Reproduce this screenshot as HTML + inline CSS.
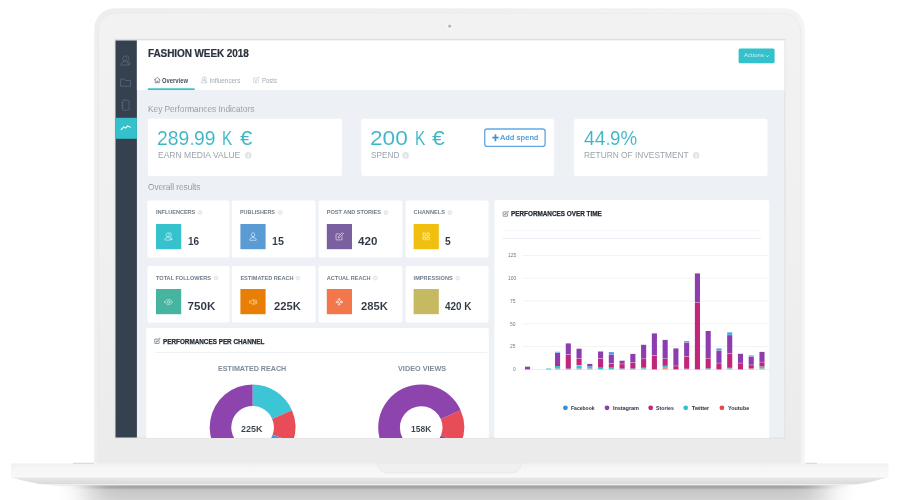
<!DOCTYPE html>
<html lang="en"><head><meta charset="utf-8"><title>Fashion Week 2018 dashboard</title>
<style>
html,body{margin:0;padding:0;background:#fff}
body{width:900px;height:500px;position:relative;overflow:hidden;font-family:"Liberation Sans",sans-serif}
.b{position:absolute}
.t{position:absolute;white-space:nowrap;line-height:1;margin:0;padding:0;transform-origin:0 0}
.p{display:inline-block;white-space:pre;transform-origin:0 0;vertical-align:top}
.thin{-webkit-text-stroke:0.06px #fff}
.thinbg{-webkit-text-stroke:0.18px #edf1f6}
.semi{-webkit-text-stroke:0.06px #fff}
.heavy2{-webkit-text-stroke:0.18px currentColor}
.heavy{-webkit-text-stroke:0.25px currentColor}
svg{position:absolute;left:0;top:0;overflow:visible}
#screen{will-change:transform;position:absolute;left:0;top:0;width:900px;height:500px;clip-path:inset(40.5px 115.6px 62.5px 115.5px)}
</style></head><body>
<svg width="900" height="500" viewBox="0 0 900 500">
<defs>
<linearGradient id="baseg" x1="0" y1="463.5" x2="0" y2="485.5" gradientUnits="userSpaceOnUse"><stop offset="0" stop-color="#f0f0f0"/><stop offset="0.2" stop-color="#f5f5f5"/><stop offset="0.62" stop-color="#f9f9f9"/><stop offset="0.66" stop-color="#e6e6e6"/><stop offset="0.92" stop-color="#dbdbdb"/><stop offset="0.95" stop-color="#efefef"/><stop offset="1" stop-color="#e2e2e2"/></linearGradient>
<linearGradient id="lidg" x1="0" y1="0" x2="0" y2="1"><stop offset="0" stop-color="#f2f2f2"/><stop offset="0.5" stop-color="#f0f0f0"/><stop offset="1" stop-color="#ebebeb"/></linearGradient>
<linearGradient id="rimg" x1="0" y1="0" x2="1" y2="0"><stop offset="0" stop-color="#eeeeee"/><stop offset="0.5" stop-color="#efefef"/><stop offset="1" stop-color="#f4f4f4"/></linearGradient>
<linearGradient id="shg" x1="0" y1="485" x2="0" y2="500" gradientUnits="userSpaceOnUse"><stop offset="0" stop-color="#9c9c9c"/><stop offset="0.2" stop-color="#a9a9a9"/><stop offset="0.32" stop-color="#c6c6c6"/><stop offset="1" stop-color="#d1d1d1"/></linearGradient>
<filter id="blurh" x="-10%" y="-50%" width="120%" height="200%"><feGaussianBlur stdDeviation="15 0.6"/></filter>
</defs>
<!-- ground shadow -->
<rect x="88" y="484.5" width="737" height="30" fill="url(#shg)" filter="url(#blurh)"/>
<!-- lid -->
<path d="M94.3 463.5 V28.5 a20.200 20.200 0 0 1 20.200 -20.200 H784.5 a20.200 20.200 0 0 1 20.200 20.200 V463.5 Z" fill="url(#rimg)"/>
<path d="M98.200 463.5 V30 a17.300 17.300 0 0 1 17.300 -17.300 H783.5 a17.300 17.300 0 0 1 17.300 17.300 V463.5 Z" fill="#e9e9e9"/>
<path d="M99 463.5 V30 a16.500 16.500 0 0 1 16.500 -16.500 H783.5 a16.500 16.500 0 0 1 16.500 16.500 V463.5 Z" fill="url(#lidg)"/>
<rect x="114.600" y="38.800" width="670.700" height="399.600" fill="#dedede"/>
<!-- base -->
<path d="M11 463.5 H888.5 V477 C875 481 860 485.500 840 485.500 H60 C40 485.500 25 481 11 477.500 Z" fill="url(#baseg)"/>
<path d="M378 463 H521 V464 a9 9 0 0 1 -9 9 H387 a9 9 0 0 1 -9 -9 Z" fill="#f0f0f0" stroke="#e6e6e6" stroke-width="0.8"/>
<rect x="73" y="462.800" width="21" height="0.9" fill="#cfcfcf"/>
<rect x="805.500" y="462.800" width="11.500" height="0.9" fill="#cfcfcf"/>
</svg>
<div id="screen">
<svg width="900" height="500" viewBox="0 0 900 500">
<rect x="115.50" y="40.50" width="668.90" height="397.00" rx="0" fill="#edf1f6" />
<rect x="115.50" y="40.50" width="21.40" height="397.00" rx="0" fill="#36414f" />
<rect x="115.50" y="117.80" width="21.40" height="21.00" rx="0" fill="#35c1cb" />
<rect x="136.90" y="40.50" width="647.50" height="49.50" rx="0" fill="#ffffff" />
<rect x="147.80" y="88.30" width="46.90" height="1.70" rx="0" fill="#35c1cb" />
<rect x="738.60" y="48.60" width="36.00" height="14.60" rx="1.5" fill="#35c1cb" />
<rect x="147.90" y="118.80" width="194.10" height="57.20" rx="2.5" fill="#fff" />
<rect x="361.30" y="118.80" width="192.80" height="57.20" rx="2.5" fill="#fff" />
<rect x="573.90" y="118.80" width="193.60" height="57.20" rx="2.5" fill="#fff" />
<rect x="484.70" y="129.00" width="60.40" height="17.40" rx="2.4" fill="#fff" stroke="#63a9e6" stroke-width="1.35"/>
<rect x="147.40" y="200.40" width="82.00" height="57.20" rx="2.2" fill="#fff" />
<rect x="147.40" y="266.00" width="82.00" height="56.60" rx="2.2" fill="#fff" />
<rect x="231.80" y="200.40" width="83.80" height="57.20" rx="2.2" fill="#fff" />
<rect x="231.80" y="266.00" width="83.80" height="56.60" rx="2.2" fill="#fff" />
<rect x="318.60" y="200.40" width="83.80" height="57.20" rx="2.2" fill="#fff" />
<rect x="318.60" y="266.00" width="83.80" height="56.60" rx="2.2" fill="#fff" />
<rect x="405.60" y="200.40" width="83.00" height="57.20" rx="2.2" fill="#fff" />
<rect x="405.60" y="266.00" width="83.00" height="56.60" rx="2.2" fill="#fff" />
<rect x="156.00" y="224.00" width="25.20" height="25.20" rx="0" fill="#36c2cc" />
<rect x="240.40" y="224.00" width="25.20" height="25.20" rx="0" fill="#5a9bd4" />
<rect x="326.80" y="224.00" width="25.20" height="25.20" rx="0" fill="#7a60a0" />
<rect x="413.60" y="224.00" width="25.20" height="25.20" rx="0" fill="#f1c00e" />
<rect x="156.00" y="289.00" width="25.20" height="25.20" rx="0" fill="#46b49e" />
<rect x="240.40" y="289.00" width="25.20" height="25.20" rx="0" fill="#e87e04" />
<rect x="326.80" y="289.00" width="25.20" height="25.20" rx="0" fill="#f2784b" />
<rect x="413.60" y="289.00" width="25.20" height="25.20" rx="0" fill="#c5b961" />
<rect x="146.20" y="328.00" width="342.60" height="112.50" rx="2.2" fill="#fff" />
<rect x="494.40" y="200.00" width="274.80" height="240.50" rx="2.2" fill="#fff" />
<rect x="155.00" y="352.20" width="332.00" height="0.80" rx="0" fill="#eceef2" />
<rect x="502.60" y="230.00" width="258.40" height="0.80" rx="0" fill="#f3f4f6" />
<rect x="502.60" y="237.80" width="258.40" height="0.90" rx="0" fill="#e3ebf3" />
</svg>
<svg width="900" height="500" viewBox="0 0 900 500">
<rect x="522.4" y="369.00" width="246.8" height="0.8" fill="#e4e8ee"/>
<rect x="522.4" y="346.20" width="246.8" height="0.8" fill="#f0f1f4"/>
<rect x="522.4" y="323.40" width="246.8" height="0.8" fill="#f0f1f4"/>
<rect x="522.4" y="300.60" width="246.8" height="0.8" fill="#f0f1f4"/>
<rect x="522.4" y="277.80" width="246.8" height="0.8" fill="#f0f1f4"/>
<rect x="522.4" y="255.00" width="246.8" height="0.8" fill="#f0f1f4"/>
<rect x="525.00" y="366.70" width="5.1" height="2.70" fill="#8d3db0"/>
<rect x="546.10" y="368.50" width="5.1" height="0.90" fill="#33c3d3"/>
<rect x="555.00" y="368.50" width="5.1" height="0.90" fill="#f28b82"/>
<rect x="555.00" y="366.00" width="5.1" height="2.50" fill="#33c3d3"/>
<rect x="555.00" y="364.00" width="5.1" height="2.00" fill="#c2267a"/>
<rect x="555.00" y="352.85" width="5.1" height="11.15" fill="#8d3db0"/>
<rect x="555.00" y="351.80" width="5.1" height="0.70" fill="#3fa4ea"/>
<rect x="565.76" y="368.60" width="5.1" height="0.80" fill="#33c3d3"/>
<rect x="565.76" y="354.65" width="5.1" height="13.95" fill="#c2267a"/>
<rect x="565.76" y="343.40" width="5.1" height="10.90" fill="#8d3db0"/>
<rect x="576.52" y="368.50" width="5.1" height="0.90" fill="#f28b82"/>
<rect x="576.52" y="365.45" width="5.1" height="3.05" fill="#33c3d3"/>
<rect x="576.52" y="358.45" width="5.1" height="6.65" fill="#c2267a"/>
<rect x="576.52" y="348.70" width="5.1" height="9.40" fill="#8d3db0"/>
<rect x="587.28" y="368.50" width="5.1" height="0.90" fill="#f28b82"/>
<rect x="587.28" y="366.30" width="5.1" height="2.20" fill="#33c3d3"/>
<rect x="587.28" y="363.90" width="5.1" height="2.40" fill="#8d3db0"/>
<rect x="598.04" y="367.60" width="5.1" height="1.80" fill="#33c3d3"/>
<rect x="598.04" y="358.75" width="5.1" height="8.85" fill="#c2267a"/>
<rect x="598.04" y="351.50" width="5.1" height="6.90" fill="#8d3db0"/>
<rect x="608.80" y="367.60" width="5.1" height="1.80" fill="#33c3d3"/>
<rect x="608.80" y="363.65" width="5.1" height="3.95" fill="#c2267a"/>
<rect x="608.80" y="354.45" width="5.1" height="8.85" fill="#8d3db0"/>
<rect x="608.80" y="352.10" width="5.1" height="2.00" fill="#3fa4ea"/>
<rect x="619.56" y="368.50" width="5.1" height="0.90" fill="#33c3d3"/>
<rect x="619.56" y="364.15" width="5.1" height="4.35" fill="#c2267a"/>
<rect x="619.56" y="360.70" width="5.1" height="3.10" fill="#8d3db0"/>
<rect x="630.32" y="368.50" width="5.1" height="0.90" fill="#33c3d3"/>
<rect x="630.32" y="362.85" width="5.1" height="5.65" fill="#c2267a"/>
<rect x="630.32" y="353.90" width="5.1" height="8.60" fill="#8d3db0"/>
<rect x="641.08" y="368.60" width="5.1" height="0.80" fill="#f28b82"/>
<rect x="641.08" y="367.70" width="5.1" height="0.90" fill="#33c3d3"/>
<rect x="641.08" y="359.05" width="5.1" height="8.65" fill="#c2267a"/>
<rect x="641.08" y="344.80" width="5.1" height="13.90" fill="#8d3db0"/>
<rect x="651.84" y="355.75" width="5.1" height="13.65" fill="#c2267a"/>
<rect x="651.84" y="333.40" width="5.1" height="22.00" fill="#8d3db0"/>
<rect x="662.60" y="367.80" width="5.1" height="1.60" fill="#f28b82"/>
<rect x="662.60" y="365.80" width="5.1" height="2.00" fill="#33c3d3"/>
<rect x="662.60" y="358.95" width="5.1" height="6.85" fill="#c2267a"/>
<rect x="662.60" y="339.90" width="5.1" height="18.70" fill="#8d3db0"/>
<rect x="673.36" y="366.15" width="5.1" height="3.25" fill="#c2267a"/>
<rect x="673.36" y="348.40" width="5.1" height="17.40" fill="#8d3db0"/>
<rect x="684.12" y="368.70" width="5.1" height="0.70" fill="#33c3d3"/>
<rect x="684.12" y="356.55" width="5.1" height="12.15" fill="#c2267a"/>
<rect x="684.12" y="342.55" width="5.1" height="13.65" fill="#8d3db0"/>
<rect x="684.12" y="341.10" width="5.1" height="1.10" fill="#3fa4ea"/>
<rect x="694.88" y="302.45" width="5.1" height="66.95" fill="#c2267a"/>
<rect x="694.88" y="273.40" width="5.1" height="28.70" fill="#8d3db0"/>
<rect x="705.64" y="368.40" width="5.1" height="1.00" fill="#33c3d3"/>
<rect x="705.64" y="358.35" width="5.1" height="10.05" fill="#c2267a"/>
<rect x="705.64" y="331.00" width="5.1" height="27.00" fill="#8d3db0"/>
<rect x="716.40" y="363.25" width="5.1" height="6.15" fill="#c2267a"/>
<rect x="716.40" y="350.55" width="5.1" height="12.35" fill="#8d3db0"/>
<rect x="716.40" y="348.40" width="5.1" height="1.80" fill="#3fa4ea"/>
<rect x="727.16" y="368.40" width="5.1" height="1.00" fill="#f28b82"/>
<rect x="727.16" y="367.80" width="5.1" height="0.60" fill="#33c3d3"/>
<rect x="727.16" y="353.75" width="5.1" height="14.05" fill="#c2267a"/>
<rect x="727.16" y="335.15" width="5.1" height="18.25" fill="#8d3db0"/>
<rect x="727.16" y="332.40" width="5.1" height="2.40" fill="#3fa4ea"/>
<rect x="737.92" y="363.25" width="5.1" height="6.15" fill="#c2267a"/>
<rect x="737.92" y="353.80" width="5.1" height="9.10" fill="#8d3db0"/>
<rect x="748.68" y="368.40" width="5.1" height="1.00" fill="#f28b82"/>
<rect x="748.68" y="365.15" width="5.1" height="3.25" fill="#c2267a"/>
<rect x="748.68" y="356.55" width="5.1" height="8.25" fill="#8d3db0"/>
<rect x="748.68" y="355.40" width="5.1" height="0.80" fill="#33c3d3"/>
<rect x="759.44" y="368.40" width="5.1" height="1.00" fill="#f28b82"/>
<rect x="759.44" y="366.40" width="5.1" height="2.00" fill="#33c3d3"/>
<rect x="759.44" y="362.25" width="5.1" height="4.15" fill="#c2267a"/>
<rect x="759.44" y="351.90" width="5.1" height="10.00" fill="#8d3db0"/>
<circle cx="565.4" cy="407.8" r="2.4" fill="#2f8fe2"/>
<circle cx="607" cy="407.8" r="2.4" fill="#8d3db0"/>
<circle cx="650.7" cy="407.8" r="2.4" fill="#c2267a"/>
<circle cx="685.7" cy="407.8" r="2.4" fill="#30c0d2"/>
<circle cx="721.9" cy="407.8" r="2.4" fill="#e9474f"/>
<path d="M252.60 384.50 A42.9 42.9 0 0 1 291.94 410.29 L272.13 418.91 A21.3 21.3 0 0 0 252.60 406.10 Z" fill="#3cc5d5"/>
<path d="M291.94 410.29 A42.9 42.9 0 0 1 292.91 442.07 L272.62 434.69 A21.3 21.3 0 0 0 272.13 418.91 Z" fill="#e84d57"/>
<path d="M292.91 442.07 A42.9 42.9 0 0 1 290.12 448.20 L271.23 437.73 A21.3 21.3 0 0 0 272.62 434.69 Z" fill="#3b9be0"/>
<path d="M290.12 448.20 A42.9 42.9 0 1 1 252.60 384.50 L252.60 406.10 A21.3 21.3 0 1 0 271.23 437.73 Z" fill="#8e44ad"/>
<path d="M460.63 410.35 A43 43 0 0 1 461.07 443.61 L440.95 435.48 A21.3 21.3 0 0 0 440.73 419.01 Z" fill="#e84d57"/>
<path d="M461.07 443.61 A43 43 0 1 1 460.63 410.35 L440.73 419.01 A21.3 21.3 0 1 0 440.95 435.48 Z" fill="#8e44ad"/>
<g transform="translate(120.00 55.00) scale(0.4667)" fill="none" stroke="#56667b" stroke-width="1.8" stroke-linecap="round" stroke-linejoin="round" opacity="1"><path d="M10 12.500c-2.500 0-4-2-4-5s1.500-5 4-5 4 2 4 5-1.500 5-4 5zM8 12.500v2L3.500 16.500C2.500 17 2 18 2 19v2.500h16V19c0-1-.5-2-1.500-2.500L12 14.500v-2"/><path d="M13 2.700c.6-.4 1.300-.7 2.200-.7 2.500 0 3.800 2 3.800 4.800 0 2.700-1.300 4.700-3 5v2l4 1.800c1 .5 1.500 1.400 1.500 2.400v2H18"/></g>
<g transform="translate(120.00 76.70) scale(0.4750)" fill="none" stroke="#56667b" stroke-width="1.8" stroke-linecap="round" stroke-linejoin="round" opacity="1"><path d="M2 5h7l2.500 3H22v12H2z"/></g>
<g transform="translate(119.60 99.20) scale(0.5000)" fill="none" stroke="#56667b" stroke-width="1.7" stroke-linecap="round" stroke-linejoin="round" opacity="1"><rect x="6" y="2" width="13" height="20" rx="2"/><path d="M4 7h3M4 12h3M4 17h3"/></g>
<g transform="translate(120.20 122.20) scale(0.4583)" fill="none" stroke="#ffffff" stroke-width="2.2" stroke-linecap="round" stroke-linejoin="round" opacity="1"><path d="M2 16l6-6 4 3 4-5 6 3"/></g>
<g transform="translate(153.60 76.40) scale(0.3083)" fill="none" stroke="#4a5360" stroke-width="1.9" stroke-linecap="round" stroke-linejoin="round" opacity="1"><path d="M3 11l9-8 9 8M5.500 9.500V21h5v-6h3v6h5V9.500"/></g>
<g transform="translate(200.40 76.30) scale(0.3083)" fill="none" stroke="#b9c0c7" stroke-width="1.9" stroke-linecap="round" stroke-linejoin="round" opacity="1"><path d="M10 12.500c-2.500 0-4-2-4-5s1.500-5 4-5 4 2 4 5-1.500 5-4 5zM8 12.500v2L3.500 16.500C2.500 17 2 18 2 19v2.500h16V19c0-1-.5-2-1.500-2.500L12 14.500v-2"/><path d="M13 2.700c.6-.4 1.300-.7 2.200-.7 2.500 0 3.800 2 3.800 4.800 0 2.700-1.300 4.700-3 5v2l4 1.800c1 .5 1.500 1.400 1.500 2.400v2H18"/></g>
<g transform="translate(252.70 76.50) scale(0.2917)" fill="none" stroke="#b9c0c7" stroke-width="1.9" stroke-linecap="round" stroke-linejoin="round" opacity="1"><path d="M19 13v7a1 1 0 0 1-1 1H4a1 1 0 0 1-1-1V6a1 1 0 0 1 1-1h8"/><path d="M9 15l1-4L20 1.800l3 3L13 14z"/></g>
<g transform="translate(153.90 337.70) scale(0.2750)" fill="none" stroke="#59636f" stroke-width="2.3" stroke-linecap="round" stroke-linejoin="round" opacity="1"><path d="M19 13v7a1 1 0 0 1-1 1H4a1 1 0 0 1-1-1V6a1 1 0 0 1 1-1h8"/><path d="M9 15l1-4L20 1.800l3 3L13 14z"/></g>
<g transform="translate(502.30 210.50) scale(0.2750)" fill="none" stroke="#59636f" stroke-width="2.3" stroke-linecap="round" stroke-linejoin="round" opacity="1"><path d="M19 13v7a1 1 0 0 1-1 1H4a1 1 0 0 1-1-1V6a1 1 0 0 1 1-1h8"/><path d="M9 15l1-4L20 1.800l3 3L13 14z"/></g>
<g transform="translate(164.10 232.00) scale(0.3750)" fill="none" stroke="#ffffff" stroke-width="1.7" stroke-linecap="round" stroke-linejoin="round" opacity="0.88"><path d="M10 12.500c-2.500 0-4-2-4-5s1.500-5 4-5 4 2 4 5-1.500 5-4 5zM8 12.500v2L3.500 16.500C2.500 17 2 18 2 19v2.500h16V19c0-1-.5-2-1.500-2.500L12 14.500v-2"/><path d="M13 2.700c.6-.4 1.300-.7 2.200-.7 2.500 0 3.800 2 3.800 4.800 0 2.700-1.300 4.700-3 5v2l4 1.800c1 .5 1.500 1.400 1.500 2.400v2H18"/></g>
<g transform="translate(248.50 232.00) scale(0.3750)" fill="none" stroke="#ffffff" stroke-width="1.7" stroke-linecap="round" stroke-linejoin="round" opacity="0.88"><path d="M12 13c-2.700 0-4.300-2.200-4.300-5.500S9.300 2 12 2s4.300 2.200 4.300 5.500S14.700 13 12 13zM10 13v2l-5 2.200C4 17.700 3.500 18.600 3.500 19.600V22h17v-2.400c0-1-.5-1.900-1.500-2.400L14 15v-2"/></g>
<g transform="translate(334.90 232.00) scale(0.3750)" fill="none" stroke="#ffffff" stroke-width="1.7" stroke-linecap="round" stroke-linejoin="round" opacity="0.88"><path d="M19 13v7a1 1 0 0 1-1 1H4a1 1 0 0 1-1-1V6a1 1 0 0 1 1-1h8"/><path d="M9 15l1-4L20 1.800l3 3L13 14z"/></g>
<g transform="translate(421.70 232.00) scale(0.3750)" fill="none" stroke="#ffffff" stroke-width="1.7" stroke-linecap="round" stroke-linejoin="round" opacity="0.88"><rect x="3" y="3" width="7.500" height="7.500" rx="2.500"/><rect x="13.500" y="3" width="7.500" height="7.500" rx="2.500"/><rect x="3" y="13.500" width="7.500" height="7.500" rx="2.500"/><rect x="13.500" y="13.500" width="7.500" height="7.500" rx="2.500"/></g>
<g transform="translate(164.10 297.50) scale(0.3750)" fill="none" stroke="#ffffff" stroke-width="1.7" stroke-linecap="round" stroke-linejoin="round" opacity="0.8"><path d="M1.500 12C4 7.500 7.500 5.500 12 5.500s8 2 10.500 6.500C20 16.500 16.500 18.500 12 18.500S4 16.500 1.500 12z"/><circle cx="12" cy="12" r="3.200"/></g>
<g transform="translate(248.50 297.50) scale(0.3750)" fill="none" stroke="#ffffff" stroke-width="1.7" stroke-linecap="round" stroke-linejoin="round" opacity="0.8"><path d="M3 9.500h4l7-5v15l-7-5H3z"/><path d="M17.500 8.500a5 5 0 0 1 0 7M20 6a9 9 0 0 1 0 12"/></g>
<g transform="translate(335.60 298.00) scale(0.3167)" fill="none" stroke="#ffffff" stroke-width="2.2" stroke-linecap="round" stroke-linejoin="round" opacity="0.9"><circle cx="12" cy="12" r="4"/><path d="M12 1.500l3 3.500h-6zM12 22.500l3-3.500h-6zM1.500 12l3.500-3v6zM22.500 12l-3.500-3v6z"/></g>
<circle cx="248.2" cy="155.4" r="3.3" fill="#e1e4e8"/><rect x="247.70" y="154.91" width="0.99" height="2.31" fill="#fff"/><rect x="247.70" y="153.35" width="0.99" height="0.99" fill="#fff"/>
<circle cx="405.6" cy="155.4" r="3.3" fill="#e1e4e8"/><rect x="405.11" y="154.91" width="0.99" height="2.31" fill="#fff"/><rect x="405.11" y="153.35" width="0.99" height="0.99" fill="#fff"/>
<circle cx="696.1" cy="155.4" r="3.3" fill="#e1e4e8"/><rect x="695.61" y="154.91" width="0.99" height="2.31" fill="#fff"/><rect x="695.61" y="153.35" width="0.99" height="0.99" fill="#fff"/>
<circle cx="200" cy="212.5" r="1.9" fill="#f4f6f8" stroke="#d6dbe1" stroke-width="0.75"/><rect x="199.75" y="211.60" width="0.5" height="1.8" fill="#dfe3e8"/>
<circle cx="280.4" cy="212.5" r="1.9" fill="#f4f6f8" stroke="#d6dbe1" stroke-width="0.75"/><rect x="280.15" y="211.60" width="0.5" height="1.8" fill="#dfe3e8"/>
<circle cx="386" cy="212.5" r="1.9" fill="#f4f6f8" stroke="#d6dbe1" stroke-width="0.75"/><rect x="385.75" y="211.60" width="0.5" height="1.8" fill="#dfe3e8"/>
<circle cx="450" cy="212.5" r="1.9" fill="#f4f6f8" stroke="#d6dbe1" stroke-width="0.75"/><rect x="449.75" y="211.60" width="0.5" height="1.8" fill="#dfe3e8"/>
<circle cx="216" cy="278.1" r="1.9" fill="#f4f6f8" stroke="#d6dbe1" stroke-width="0.75"/><rect x="215.75" y="277.20" width="0.5" height="1.8" fill="#dfe3e8"/>
<circle cx="298" cy="278.1" r="1.9" fill="#f4f6f8" stroke="#d6dbe1" stroke-width="0.75"/><rect x="297.75" y="277.20" width="0.5" height="1.8" fill="#dfe3e8"/>
<circle cx="375.4" cy="278.1" r="1.9" fill="#f4f6f8" stroke="#d6dbe1" stroke-width="0.75"/><rect x="375.15" y="277.20" width="0.5" height="1.8" fill="#dfe3e8"/>
<circle cx="457.6" cy="278.1" r="1.9" fill="#f4f6f8" stroke="#d6dbe1" stroke-width="0.75"/><rect x="457.35" y="277.20" width="0.5" height="1.8" fill="#dfe3e8"/>
<path d="M766 55.400l1.400 1.400 1.400-1.400" stroke="#d4f5f7" stroke-width="1" fill="none"/>
</svg>
<span class="t heavy2" style="left:148.00px;top:49.03px;font-size:10.0px;font-weight:700;color:#2a323d;letter-spacing:-0.093px">FASHION WEEK 2018</span>
<span class="t semi" style="left:162.30px;top:77.88px;font-size:6.4px;font-weight:700;color:#333c48;transform:scaleX(0.9139)">Overview</span>
<span class="t" style="left:209.40px;top:77.88px;font-size:6.4px;font-weight:400;color:#a3abb3;letter-spacing:-0.027px">Influencers</span>
<span class="t" style="left:261.70px;top:77.88px;font-size:6.4px;font-weight:400;color:#a3abb3;transform:scaleX(0.9375)">Posts</span>
<span class="t" style="left:744.00px;top:53.01px;font-size:5.9px;font-weight:400;color:#cdf2f5;letter-spacing:0.105px">Actions</span>
<span class="t thinbg" style="left:147.90px;top:104.88px;font-size:9.0px;font-weight:400;color:#737a82;transform:scaleX(0.9212)">Key Performances Indicators</span>
<span class="t thinbg" style="left:147.60px;top:182.81px;font-size:9.2px;font-weight:400;color:#737a82;transform:scaleX(0.8931)">Overall results</span>
<span class="t thin" style="left:157.32px;top:128.64px;font-size:19.8px;font-weight:400;color:#3db6c6"><span class="p" style="width:32.31px;transform:scaleX(0.9780);">289</span><span class="p" style="width:4.27px;transform:scaleX(0.7667);">.</span><span class="p" style="width:27.92px;transform:scaleX(0.9727);">99 </span><span class="p" style="width:18.08px;transform:scaleX(0.7750);">K </span><span class="p" style="transform:scaleX(1.1182);">€</span></span>
<span class="t thin" style="left:369.75px;top:128.64px;font-size:19.8px;font-weight:400;color:#3db6c6"><span class="p" style="width:44.76px;transform:scaleX(1.1468);">200 </span><span class="p" style="width:17.18px;transform:scaleX(0.7833);">K </span><span class="p" style="transform:scaleX(1.1545);">€</span></span>
<span class="t thin" style="left:583.50px;top:128.64px;font-size:19.8px;font-weight:400;color:#3db6c6"><span class="p" style="width:22.17px;transform:scaleX(0.9772);">44</span><span class="p" style="width:4.23px;transform:scaleX(0.7333);">.</span><span class="p" style="transform:scaleX(0.9464);">9%</span></span>
<span class="t" style="left:158.30px;top:151.37px;font-size:8.9px;font-weight:400;color:#9ba3ab;transform:scaleX(0.9603)">EARN MEDIA VALUE</span>
<span class="t" style="left:370.90px;top:151.37px;font-size:8.9px;font-weight:400;color:#9ba3ab;transform:scaleX(0.9281)">SPEND</span>
<span class="t" style="left:584.00px;top:151.37px;font-size:8.9px;font-weight:400;color:#9ba3ab;transform:scaleX(0.9392)">RETURN OF INVESTMENT</span>
<span class="t heavy" style="left:491.50px;top:130.97px;font-size:13.5px;font-weight:700;color:#3f92d8"><span class="p" style="width:8.70px;transform:scaleX(0.8750);">+ </span><span class="p heavy2" style="font-size:7.4px;position:relative;top:3.26px;font-weight:400;letter-spacing:0.334px;">Add spend</span></span>
<span class="t" style="left:156.00px;top:210.16px;font-size:5.6px;font-weight:700;color:#6f7c8a;letter-spacing:-0.045px">INFLUENCERS</span>
<span class="t" style="left:240.40px;top:210.16px;font-size:5.6px;font-weight:700;color:#6f7c8a;transform:scaleX(0.9691)">PUBLISHERS</span>
<span class="t" style="left:326.80px;top:210.16px;font-size:5.6px;font-weight:700;color:#6f7c8a;letter-spacing:-0.039px">POST AND STORIES</span>
<span class="t" style="left:413.60px;top:210.16px;font-size:5.6px;font-weight:700;color:#6f7c8a;letter-spacing:0.036px">CHANNELS</span>
<span class="t" style="left:156.00px;top:275.66px;font-size:5.6px;font-weight:700;color:#6f7c8a;letter-spacing:-0.020px">TOTAL FOLLOWERS</span>
<span class="t" style="left:240.40px;top:275.66px;font-size:5.6px;font-weight:700;color:#6f7c8a;letter-spacing:-0.008px">ESTIMATED REACH</span>
<span class="t" style="left:326.80px;top:275.66px;font-size:5.6px;font-weight:700;color:#6f7c8a;letter-spacing:-0.054px">ACTUAL REACH</span>
<span class="t" style="left:413.60px;top:275.66px;font-size:5.6px;font-weight:700;color:#6f7c8a;letter-spacing:0.028px">IMPRESSIONS</span>
<span class="t semi" style="left:188.00px;top:235.18px;font-size:11.6px;font-weight:700;color:#2d3642;transform:scaleX(0.8626)">16</span>
<span class="t semi" style="left:272.00px;top:235.18px;font-size:11.6px;font-weight:700;color:#2d3642;transform:scaleX(0.9221)">15</span>
<span class="t semi" style="left:358.00px;top:235.18px;font-size:11.6px;font-weight:700;color:#2d3642;letter-spacing:0.052px">420</span>
<span class="t semi" style="left:445.40px;top:235.18px;font-size:11.6px;font-weight:700;color:#2d3642;transform:scaleX(0.8857)">5</span>
<span class="t semi" style="left:187.40px;top:300.18px;font-size:11.6px;font-weight:700;color:#2d3642;letter-spacing:0.085px">750K</span>
<span class="t semi" style="left:273.60px;top:300.18px;font-size:11.6px;font-weight:700;color:#2d3642;transform:scaleX(0.9667)">225K</span>
<span class="t semi" style="left:360.60px;top:300.18px;font-size:11.6px;font-weight:700;color:#2d3642;transform:scaleX(0.9667)">285K</span>
<span class="t semi" style="left:445.40px;top:300.18px;font-size:11.6px;font-weight:700;color:#2d3642;transform:scaleX(0.8554)">420 K</span>
<span class="t heavy" style="left:163.30px;top:337.67px;font-size:7.0px;font-weight:700;color:#222a35;transform:scaleX(0.9057)">PERFORMANCES PER CHANNEL</span>
<span class="t heavy" style="left:511.40px;top:210.64px;font-size:6.8px;font-weight:700;color:#222a35;transform:scaleX(0.9352)">PERFORMANCES OVER TIME</span>
<span class="t" style="left:218.00px;top:365.00px;font-size:7.8px;font-weight:700;color:#7f8b98;transform:scaleX(0.9180)">ESTIMATED REACH</span>
<span class="t" style="left:397.60px;top:365.00px;font-size:7.8px;font-weight:700;color:#7f8b98;transform:scaleX(0.9347)">VIDEO VIEWS</span>
<span class="t semi" style="left:241.00px;top:423.62px;font-size:9.9px;font-weight:700;color:#3a424d;transform:scaleX(0.9070)">225K</span>
<span class="t semi" style="left:411.00px;top:423.62px;font-size:9.9px;font-weight:700;color:#3a424d;transform:scaleX(0.8580)">158K</span>
<span class="t" style="left:513.10px;top:367.13px;font-size:5.4px;font-weight:400;color:#737980;transform:scaleX(0.9000)">0</span>
<span class="t" style="left:510.30px;top:344.33px;font-size:5.4px;font-weight:400;color:#737980;transform:scaleX(0.9170)">25</span>
<span class="t" style="left:510.30px;top:321.53px;font-size:5.4px;font-weight:400;color:#737980;transform:scaleX(0.9170)">50</span>
<span class="t" style="left:510.30px;top:298.73px;font-size:5.4px;font-weight:400;color:#737980;transform:scaleX(0.9170)">75</span>
<span class="t" style="left:507.50px;top:275.93px;font-size:5.4px;font-weight:400;color:#737980;transform:scaleX(0.9226)">100</span>
<span class="t" style="left:507.50px;top:253.13px;font-size:5.4px;font-weight:400;color:#737980;transform:scaleX(0.9226)">125</span>
<span class="t" style="left:570.80px;top:405.56px;font-size:5.6px;font-weight:700;color:#2d3642;transform:scaleX(0.9037)">Facebook</span>
<span class="t" style="left:613.00px;top:405.56px;font-size:5.6px;font-weight:700;color:#2d3642;letter-spacing:-0.095px">Instagram</span>
<span class="t" style="left:656.30px;top:405.56px;font-size:5.6px;font-weight:700;color:#2d3642;transform:scaleX(0.9389)">Stories</span>
<span class="t" style="left:691.80px;top:405.56px;font-size:5.6px;font-weight:700;color:#2d3642;letter-spacing:-0.090px">Twitter</span>
<span class="t" style="left:727.70px;top:405.56px;font-size:5.6px;font-weight:700;color:#2d3642;transform:scaleX(0.9659)">Youtube</span>
</div>
<svg width="900" height="500" viewBox="0 0 900 500">
<circle cx="449.700" cy="26.100" r="3.300" fill="#f6f6f6"/>
<circle cx="449.700" cy="26.100" r="1.700" fill="#b9b9b9"/>
</svg>
</body></html>
